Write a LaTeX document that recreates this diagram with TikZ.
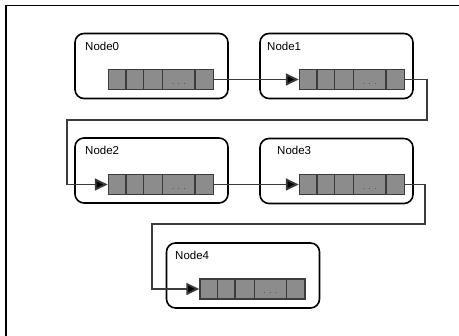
\documentclass[tikz,border=0pt]{standalone}
\usepackage{fontspec}
\setmainfont{Liberation Sans}
\usepackage{tikz}
\usetikzlibrary{shapes,arrows.meta,positioning,shapes.multipart}

\definecolor{cellgray}{RGB}{140,140,140}
\definecolor{linegray}{RGB}{60,60,60}

% one slot of a queue, #1 = width in pt
\newcommand{\qslot}[1]{\makebox[#1pt]{\rule[-5pt]{0pt}{20pt}}}
\newcommand{\qdots}{\makebox[31pt]{\rule[-5pt]{0pt}{20pt}\footnotesize.\hspace{3.5pt}.\hspace{3.5pt}.}}
\newcommand{\qslots}{\qslot{17}\nodepart{two}\qslot{16}\nodepart{three}\qslot{18}\nodepart{four}\qdots\nodepart{five}\qslot{18}}

\begin{document}
\begin{tikzpicture}[
  x=1pt, y=-1pt,
  machine/.style={rectangle, draw=black, line width=1.6pt, rounded corners=9pt, minimum width=153pt, minimum height=65pt},
  nodetag/.style={inner sep=0pt, anchor=base west, font=\fontsize{11.5}{13}\selectfont},
  queue/.style={rectangle split, rectangle split horizontal, rectangle split parts=5, draw=linegray, fill=cellgray, line width=1.3pt, inner sep=0pt, text=linegray},
  link/.style={draw=linegray, line width=1.8pt, ->, >={Triangle[length=13pt,width=12pt]}}
]
\useasboundingbox (0,0) rectangle (459,336);

% frame
\draw[line width=1.5pt] (459,5.5) -- (6,5.5) -- (6,336);

\node[machine] (m0) at (151.5,66) {};
\node[nodetag] (l0) at (85,51) {Node0};
\node[queue] (q0) at (161,79.5) {\qslots};

\node[machine] (m1) at (336.5,66) {};
\node[nodetag] (l1) at (267,51) {Node1};
\node[queue] (q1) at (352,79.5) {\qslots};
\draw[link] (q0.east) -- (q1.west);

\node[machine] (m2) at (151.5,170.5) {};
\node[nodetag] (l2) at (85,155) {Node2};
\node[queue] (q2) at (161,184.5) {\qslots};

\coordinate (r1) at (427,120);
\coordinate (t1) at (67,120);
\draw[link] (q1.east) -| (r1) -- (t1) |- (q2.west);

\node[machine] (m3) at (336.5,171) {};
\node[nodetag] (l3) at (277,155) {Node3};
\node[queue] (q3) at (352,184.5) {\qslots};
\draw[link] (q2.east) -- (q3.west);

\node[machine] (m4) at (243,275.5) {};
\node[nodetag] (l4) at (175,260) {Node4};
\node[queue] (q4) at (252.5,289) {\qslots};

\coordinate (r2) at (425,224);
\coordinate (t2) at (152,224);
\draw[link] (q3.east) -| (r2) -- (t2) |- (q4.west);

\end{tikzpicture}
\end{document}
